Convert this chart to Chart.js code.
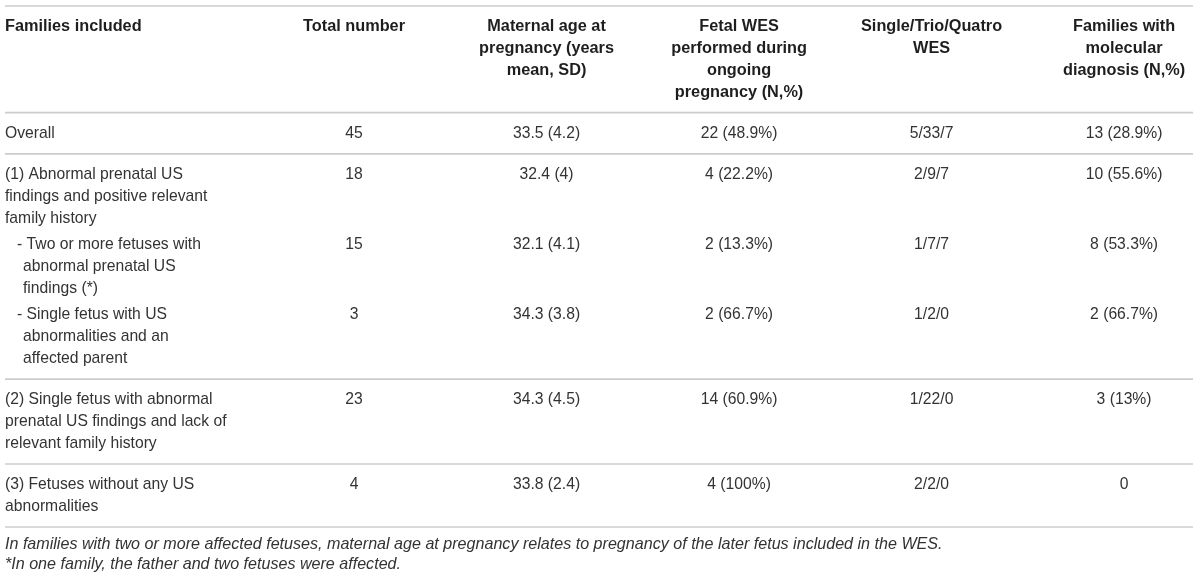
<!DOCTYPE html>
<html>
<head>
<meta charset="utf-8">
<script src="https://cdn.jsdelivr.net/npm/chart.js@4.4.1/dist/chart.umd.min.js"></script>
<style>
  body { margin: 0; background: #fff; }
  #wrap { width: 1200px; height: 579px; }
</style>
</head>
<body>
<div id="wrap"><canvas id="myChart"></canvas></div>
<script>
// column headers (already wrapped as in the original)
const headers = [
    ['Families included'],
    ['Total number'],
    ['Maternal age at', 'pregnancy (years', 'mean, SD)'],
    ['Fetal WES', 'performed during', 'ongoing', 'pregnancy (N,%)'],
    ['Single/Trio/Quatro', 'WES'],
    ['Families with', 'molecular', 'diagnosis (N,%)']
];

// row categories
const rowLabels = [
    ['Overall'],
    ['(1) Abnormal prenatal US', 'findings and positive relevant', 'family history'],
    ['- Two or more fetuses with', 'abnormal prenatal US', 'findings (*)'],
    ['- Single fetus with US', 'abnormalities and an', 'affected parent'],
    ['(2) Single fetus with abnormal', 'prenatal US findings and lack of', 'relevant family history'],
    ['(3) Fetuses without any US', 'abnormalities']
];
const subRow = [false, false, true, true, false, false];
const groups = [[0], [1, 2, 3], [4], [5]];

// values
const totals = [45, 18, 15, 3, 23, 4];
const ageMean = [33.5, 32.4, 32.1, 34.3, 34.3, 33.8];
const ageSD = [4.2, 4, 4.1, 3.8, 4.5, 2.4];
const fetalN = [22, 4, 2, 2, 14, 4];
const fetalPct = [48.9, 22.2, 13.3, 66.7, 60.9, 100];
const wesSingle = [5, 2, 1, 1, 1, 2];
const wesTrio = [33, 9, 7, 2, 22, 2];
const wesQuatro = [7, 7, 7, 0, 0, 0];
const diagN = [13, 10, 8, 2, 3, 0];
const diagPct = [28.9, 55.6, 53.3, 66.7, 13, null];

const footnotes = [
    'In families with two or more affected fetuses, maternal age at pregnancy relates to pregnancy of the later fetus included in the WES.',
    '*In one family, the father and two fetuses were affected.'
];

function cellText(c, r) {
    switch (c) {
        case 0: return rowLabels[r];
        case 1: return [String(totals[r])];
        case 2: return [ageMean[r] + ' (' + ageSD[r] + ')'];
        case 3: return [fetalN[r] + ' (' + fetalPct[r] + '%)'];
        case 4: return [wesSingle[r] + '/' + wesTrio[r] + '/' + wesQuatro[r]];
        default: return [diagPct[r] == null ? String(diagN[r]) : diagN[r] + ' (' + diagPct[r] + '%)'];
    }
}

// vertical layout, in text-line units
const padTop = 0.455, padBottom = 0.44, subGap = 0.22;
const rules = [0];
let yPos = 0;
const headerY = padTop + 0.5;
yPos = headerY + (Math.max(...headers.map(h => h.length)) - 1) + 0.5 + padBottom;
rules.push(yPos);
const rowY = [];
groups.forEach(g => {
    yPos += padTop + 0.5;
    g.forEach((r, k) => {
        if (k > 0) yPos += 1 + subGap;
        rowY[r] = yPos;
        yPos += rowLabels[r].length - 1;
    });
    yPos += 0.5 + padBottom;
    rules.push(yPos);
});
const totalUnits = yPos;

// horizontal: columns 1..5 at integer positions, first column starts at the left edge
const xMin = -0.813, xMax = 5.358;
const colX = c => (c === 0 ? xMin : c);

const FONT = "'Liberation Sans', Arial, sans-serif";
const textColor = '#333';
const headColor = '#1e1e1e';

const tablePlugin = {
    id: 'tableCells',
    afterDatasetsDraw(chart) {
        const ctx = chart.ctx;
        const area = chart.chartArea;
        const yScale = chart.scales.y;
        const step = Math.abs(yScale.getPixelForValue(1) - yScale.getPixelForValue(0));

        ctx.save();
        ctx.strokeStyle = '#cccccc';
        ctx.lineWidth = 1.6;
        rules.forEach(v => {
            const py = yScale.getPixelForValue(v);
            ctx.beginPath();
            ctx.moveTo(area.left, py);
            ctx.lineTo(area.right, py);
            ctx.stroke();
        });

        ctx.textBaseline = 'middle';
        chart.data.datasets.forEach((ds, c) => {
            const meta = chart.getDatasetMeta(c);
            meta.data.forEach((pt, i) => {
                const isHead = i === 0;
                const lines = isHead ? headers[c] : cellText(c, i - 1);
                ctx.font = isHead ? 'bold 16.3px ' + FONT : '15.7px ' + FONT;
                ctx.fillStyle = isHead ? headColor : textColor;
                ctx.textAlign = c === 0 ? 'left' : 'center';
                lines.forEach((line, j) => {
                    let dx = 0;
                    if (c === 0 && !isHead && subRow[i - 1]) dx = j === 0 ? 12 : 18;
                    ctx.fillText(line, pt.x + dx, pt.y + j * step);
                });
            });
        });
        ctx.restore();
    }
};

const ctx = document.getElementById('myChart');
const myChart = new Chart(ctx, {
    type: 'scatter',
    data: {
        datasets: headers.map((h, c) => ({
            label: h.join(' '),
            data: [{ x: colX(c), y: headerY }].concat(rowY.map(v => ({ x: colX(c), y: v }))),
            pointRadius: 0,
            pointHoverRadius: 0
        }))
    },
    options: {
        responsive: true,
        maintainAspectRatio: false,
        animation: false,
        events: [],
        layout: { padding: { top: 6, left: 5, right: 7, bottom: 0 } },
        scales: {
            x: { type: 'linear', display: false, min: xMin, max: xMax },
            y: { type: 'linear', display: false, reverse: true, min: 0, max: totalUnits }
        },
        plugins: {
            legend: { display: false },
            tooltip: { enabled: false },
            title: {
                display: true,
                position: 'bottom',
                align: 'start',
                text: footnotes,
                color: textColor,
                font: { family: FONT, size: 16.1, style: 'italic', weight: 'normal', lineHeight: 20 / 16.1 },
                padding: { top: 8, bottom: 4 }
            }
        }
    },
    plugins: [tablePlugin]
});
</script>
</body>
</html>
